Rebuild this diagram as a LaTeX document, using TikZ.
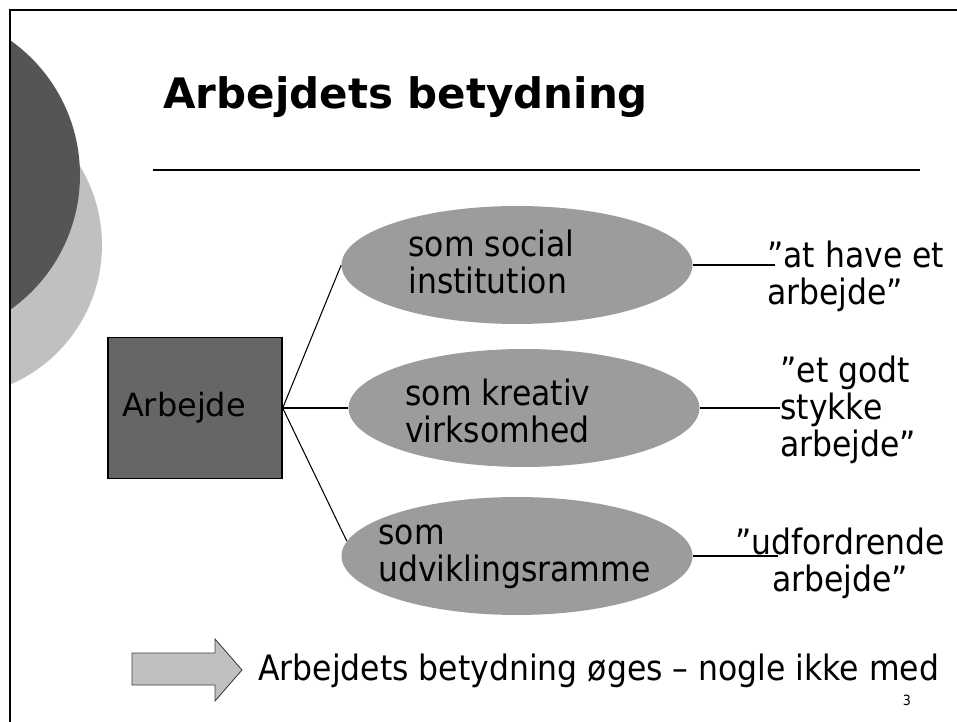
\documentclass[tikz,border=0pt]{standalone}
\usepackage{fontspec}
\setmainfont{DejaVu Sans}
\newfontfamily\slidefont[FakeStretch=0.9]{DejaVu Sans}
\usetikzlibrary{shapes.geometric}
\definecolor{circdark}{HTML}{555555}
\definecolor{circlight}{HTML}{C0C0C0}
\definecolor{boxgray}{HTML}{666666}
\definecolor{ellgray}{HTML}{9C9C9C}
\definecolor{arrowgray}{HTML}{C0C0C0}
\begin{document}
\begin{tikzpicture}[x=0.02cm, y=-0.02cm, every node/.style={inner sep=0pt},
  body/.style={font=\slidefont\fontsize{19.9}{21.1}\selectfont,align=left,anchor=west},
  role/.style={ellipse,fill=ellgray,minimum width=7.02cm,minimum height=2.36cm},
  link/.style={line width=0.6pt}]
\useasboundingbox (0,0) rectangle (957,722);
\begin{scope}
  \clip (10,10) rectangle (957,722);
  \fill[circlight] (-50,245) circle (3.04cm);
  \fill[circdark] (-85,175) circle (3.3cm);
\end{scope}
\draw[line width=1.3pt] (10,722) -- (10,10) -- (957,10);
\node[font=\bfseries\fontsize{23.9}{28}\selectfont,anchor=base west] (title) at (163,109) {Arbejdets betydning};
\draw[line width=1.4pt] (153,170) -- (920,170);
\node[draw,fill=boxgray,line width=0.8pt,text width=2.92cm,inner sep=0.28cm,minimum height=2.82cm,align=left,
  font=\fontsize{18.2}{22}\selectfont] (arb) at (195,408) {Arbejde};
\node[role] (social) at (517,265) {};
\node[role] (kreativ) at (524,408) {};
\node[role] (udvikling) at (517,556) {};
\node[body] (socialtxt) at (408,262) {som social\\institution};
\node[body] (kreativtxt) at (405,411) {som kreativ\\virksomhed};
\node[body] (udvtxt) at (378,557) {som\\udviklingsramme};
\node[body] (haveq) at (767,276) {”at have et\\arbejde”};
\node[body] (stykkeq) at (780,410) {”et godt\\stykke\\arbejde”};
\node[body,align=center,anchor=center] (udfq) at (840,563) {”udfordrende\\arbejde”};
\coordinate (haveend) at (775,265);
\coordinate (stykkeend) at (780,408);
\coordinate (udfend) at (778,556);
\foreach \e in {social,kreativ} \draw[link] (arb.east) -- (\e.west);
\draw[link] (arb.east) -- (udvikling.175);
\draw[link] (social.east) -- (haveend);
\draw[link] (kreativ.east) -- (stykkeend);
\draw[link] (udvikling.east) -- (udfend);
% bottom line
\draw[fill=arrowgray,draw=black!75,line width=0.5pt] (132,653) -- (215,653) -- (215,639) -- (242,670) -- (215,701) -- (215,685) -- (132,685) -- cycle;
\node[font=\slidefont\fontsize{19.9}{21.1}\selectfont,anchor=base west] (conclusion) at (258,681) {Arbejdets betydning øges – nogle ikke med};
\node[font=\slidefont\fontsize{8}{9}\selectfont] (pagenr) at (907,700) {3};
\end{tikzpicture}
\end{document}
